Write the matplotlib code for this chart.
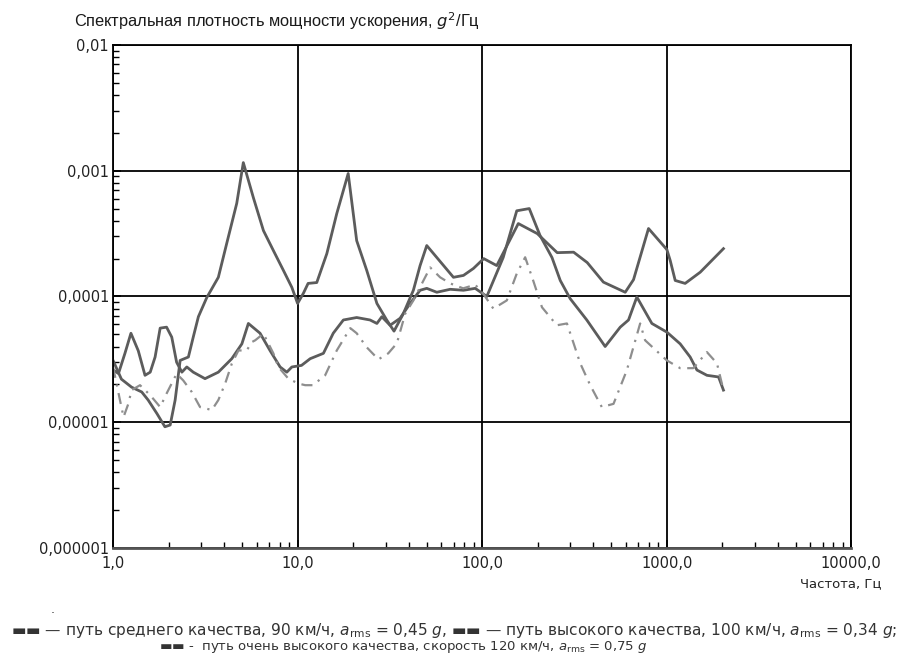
import matplotlib
matplotlib.use("Agg")
import matplotlib.pyplot as plt
from matplotlib.ticker import FixedLocator, LogLocator, NullFormatter

# series 1: путь среднего качества (big peaks at 5 and 19 Hz)
freq_a = [1.0, 1.11, 1.26, 1.43, 1.55, 1.73, 1.91, 2.04, 2.17, 2.31, 2.56,
          2.72, 2.90, 3.22, 3.72, 4.13, 4.68, 5.08, 5.76, 6.53, 7.39, 8.38,
          9.31, 10.0, 10.75, 11.4, 12.7, 14.4, 16.3, 18.8, 20.9, 23.7, 26.9,
          30.4, 33.3, 37.4, 42.4, 46.1, 50.1, 69.9, 79.2, 89.7, 102, 120,
          157, 199, 255, 313, 371, 454, 596, 661, 797, 1002, 1045, 1112,
          1259, 1520, 2030]
psd_a = [3.1e-5, 2.2e-5, 1.9e-5, 1.74e-5, 1.5e-5, 1.17e-5, 9.2e-6, 9.5e-6,
         1.5e-5, 3.1e-5, 3.3e-5, 4.75e-5, 6.9e-5, 9.8e-5, 1.42e-4, 2.64e-4,
         5.5e-4, 1.16e-3, 6.1e-4, 3.34e-4, 2.32e-4, 1.61e-4, 1.18e-4, 8.8e-5,
         1.06e-4, 1.27e-4, 1.29e-4, 2.19e-4, 4.56e-4, 9.5e-4, 2.78e-4,
         1.61e-4, 8.8e-5, 6.5e-5, 5.3e-5, 7.3e-5, 1.12e-4, 1.76e-4, 2.54e-4,
         1.42e-4, 1.47e-4, 1.67e-4, 2.0e-4, 1.76e-4, 3.8e-4, 3.16e-4,
         2.23e-4, 2.25e-4, 1.86e-4, 1.30e-4, 1.08e-4, 1.36e-4, 3.47e-4,
         2.36e-4, 1.93e-4, 1.34e-4, 1.27e-4, 1.56e-4, 2.4e-4]

# series 2: путь высокого качества
freq_b = [1.0, 1.07, 1.16, 1.25, 1.37, 1.49, 1.59, 1.69, 1.80, 1.95, 2.08,
          2.21, 2.36, 2.51, 2.72, 3.15, 3.72, 4.40, 4.99, 5.41, 6.26, 7.10,
          8.04, 8.74, 9.31, 10.5, 11.7, 13.8, 15.6, 17.7, 20.9, 24.7, 26.9,
          28.6, 31.7, 35.9, 40.7, 46.1, 50.1, 56.8, 67.1, 79.2, 91.7, 106,
          130, 154, 180, 206, 239, 265, 300, 369, 464, 560, 621, 689, 831,
          1003, 1183, 1340, 1458, 1652, 1910, 2030]
psd_b = [2.6e-5, 2.44e-5, 3.53e-5, 5.1e-5, 3.7e-5, 2.36e-5, 2.5e-5, 3.3e-5,
         5.6e-5, 5.7e-5, 4.75e-5, 3.0e-5, 2.5e-5, 2.75e-5, 2.5e-5, 2.22e-5,
         2.5e-5, 3.2e-5, 4.2e-5, 6.1e-5, 5.1e-5, 3.7e-5, 2.75e-5, 2.5e-5,
         2.75e-5, 2.83e-5, 3.2e-5, 3.53e-5, 5.1e-5, 6.5e-5, 6.8e-5, 6.5e-5,
         6.1e-5, 6.9e-5, 5.9e-5, 6.7e-5, 8.8e-5, 1.12e-4, 1.16e-4, 1.08e-4,
         1.14e-4, 1.12e-4, 1.16e-4, 1.0e-4, 2.04e-4, 4.8e-4, 5.0e-4, 3.05e-4,
         2.04e-4, 1.34e-4, 9.6e-5, 6.5e-5, 4.0e-5, 5.7e-5, 6.5e-5, 9.9e-5,
         6.1e-5, 5.2e-5, 4.2e-5, 3.3e-5, 2.6e-5, 2.36e-5, 2.29e-5, 1.8e-5]

# series 3: путь очень высокого качества (dash-dot)
freq_c = [1.0, 1.09, 1.14, 1.21, 1.26, 1.40, 1.59, 1.80, 1.95, 2.21, 2.40,
          2.67, 2.96, 3.43, 3.72, 4.05, 4.40, 4.78, 5.3, 5.65, 5.89, 6.53,
          7.39, 7.87, 8.91, 10.1, 11.0, 12.1, 14.1, 16.3, 19.3, 20.9, 23.7,
          27.4, 31.0, 34.5, 38.3, 42.4, 48.1, 52.3, 59.2, 67.1, 78.9, 91.7,
          101, 115, 136, 154, 171, 189, 211, 254, 288, 313, 340, 385, 445,
          515, 608, 718, 764, 1002, 1183, 1393, 1652, 1872, 2030]
psd_c = [2.75e-5, 1.5e-5, 1.1e-5, 1.4e-5, 1.8e-5, 1.97e-5, 1.64e-5, 1.32e-5,
         1.69e-5, 2.43e-5, 2.15e-5, 1.74e-5, 1.32e-5, 1.25e-5, 1.5e-5,
         2.03e-5, 2.92e-5, 3.72e-5, 3.72e-5, 4.34e-5, 4.48e-5, 5.06e-5,
         3.53e-5, 2.75e-5, 2.22e-5, 2.03e-5, 1.97e-5, 1.97e-5, 2.36e-5,
         3.72e-5, 5.6e-5, 5.1e-5, 3.94e-5, 3.16e-5, 3.53e-5, 4.24e-5, 7.3e-5,
         9.3e-5, 1.34e-4, 1.70e-4, 1.42e-4, 1.27e-4, 1.16e-4, 1.24e-4,
         1.06e-4, 8.0e-5, 9.3e-5, 1.52e-4, 2.05e-4, 1.34e-4, 8.2e-5, 5.9e-5,
         6.1e-5, 4.24e-5, 2.94e-5, 1.97e-5, 1.32e-5, 1.4e-5, 2.59e-5, 6.1e-5,
         4.48e-5, 3.1e-5, 2.69e-5, 2.69e-5, 3.61e-5, 2.94e-5, 1.8e-5]

x_ticks = [1, 10, 100, 1000, 10000]
x_labels = ["1,0", "10,0", "100,0", "1000,0", "10000,0"]
y_ticks = [1e-6, 1e-5, 1e-4, 1e-3, 1e-2]
y_labels = ["0,000001", "0,00001", "0,0001", "0,001", "0,01"]

plt.rcParams["font.family"] = ["DejaVu Sans"]

fig = plt.figure(figsize=(9.08, 6.63), dpi=100)
ax = fig.add_axes([0.1245, 0.1735, 0.813, 0.7587])

ax.plot(freq_a, psd_a, color="#5c5c5c", lw=2)
ax.plot(freq_b, psd_b, color="#5c5c5c", lw=2)
ax.plot(freq_c, psd_c, color="#8e8e8e", lw=1.6, dashes=(5, 3, 1, 3))

ax.set_xscale("log")
ax.set_yscale("log")
ax.set_xlim(1, 10000)
ax.set_ylim(1e-6, 1e-2)

ax.xaxis.set_major_locator(FixedLocator(x_ticks))
ax.set_xticklabels(x_labels)
ax.yaxis.set_major_locator(FixedLocator(y_ticks))
ax.set_yticklabels(y_labels)
for axis in (ax.xaxis, ax.yaxis):
    axis.set_minor_locator(LogLocator(base=10, subs=range(2, 10), numticks=20))
    axis.set_minor_formatter(NullFormatter())

ax.tick_params(which="both", direction="in", top=False, right=False,
               color="black", labelsize=10.5, labelcolor="#222222")
ax.tick_params(which="major", length=6, width=1.2)
ax.tick_params(which="minor", length=4, width=1)
ax.tick_params(axis="x", pad=6)
ax.tick_params(axis="y", pad=3)

ax.grid(True, which="major", color="black", lw=1.3)
for sp in ax.spines.values():
    sp.set_color("black")
    sp.set_linewidth(1.3)
ax.spines["bottom"].set_linewidth(2)
ax.spines["bottom"].set_color("#555555")

fig.text(0.082, 0.968, "Спектральная плотность мощности ускорения, $g^2$/Гц",
         fontsize=11.8, color="#1a1a1a", ha="left", va="center",
         family="Liberation Sans")
fig.text(0.971, 0.12, "Частота, Гц", fontsize=9.5, color="#222222",
         ha="right", va="center")
fig.text(0.058, 0.076, ".", fontsize=9, color="#333333", ha="center")

leg1 = ("\u25ac\u25ac \u2014 путь среднего качества, 90 км/ч, $a_{\\rm rms}$ = 0,45 $g$, "
        "\u25ac\u25ac \u2014 путь высокого качества, 100 км/ч, $a_{\\rm rms}$ = 0,34 $g$;")
leg2 = ("\u25ac\u25ac -  путь очень высокого качества, скорость 120 км/ч, "
        "$a_{\\rm rms}$ = 0,75 $g$")
fig.text(0.5, 0.049, leg1, fontsize=11.1, color="#333333", ha="center", va="center")
fig.text(0.444, 0.024, leg2, fontsize=9.5, color="#333333", ha="center", va="center")

plt.savefig("out.png", dpi=100)
